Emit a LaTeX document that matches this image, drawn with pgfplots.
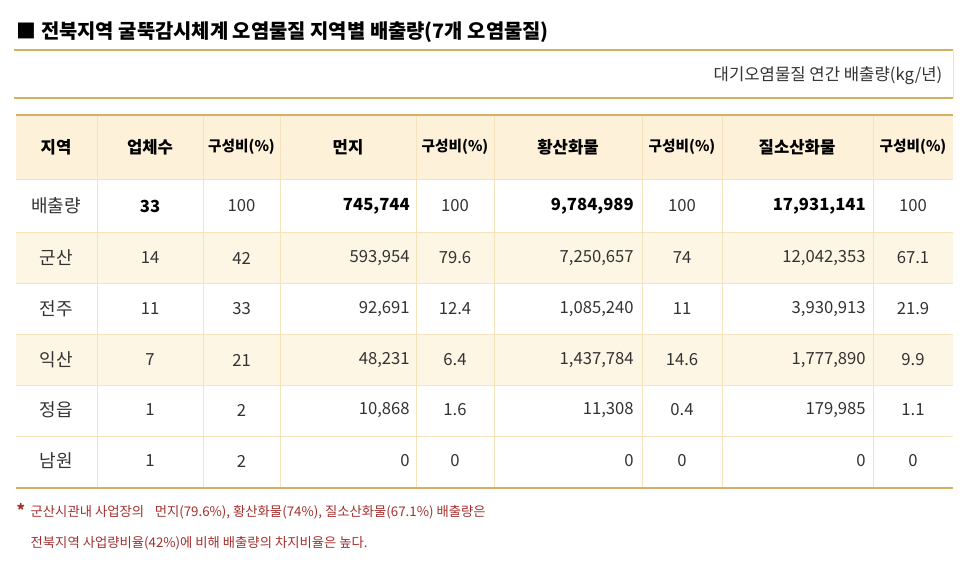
\documentclass[border=0pt]{standalone}
\usepackage{fontspec}
\setmainfont{Noto Sans CJK KR}
\usepackage{pgfplots}
\pgfplotsset{compat=1.18}
\usepackage{pgfplotstable}
\definecolor{gold}{HTML}{D5B261}
\definecolor{gridc}{HTML}{F5E3BC}
\definecolor{hdrbg}{HTML}{FDF1D9}
\definecolor{rowbg}{HTML}{FEF6E5}
\definecolor{txt}{HTML}{333333}
\definecolor{note}{HTML}{A3302E}

% 지역별 배출량 (kg/년), 행 중심 y 는 픽셀 단위
\pgfplotstableread{
y   reg    cnt cr  dust    dr    sox       sr    nox        nr
258 군산   14  42  593,954 79.6  7,250,657 74    12,042,353 67.1
309 전주   11  33  92,691  12.4  1,085,240 11    3,930,913  21.9
360 익산   7   21  48,231  6.4   1,437,784 14.6  1,777,890  9.9
410 정읍   1   2   10,868  1.6   11,308    0.4   179,985    1.1
461 남원   1   2   0       0     0         0     0          0
}\rows
\pgfplotstableread{
y   reg    cnt cr  dust    dr  sox       sr  nox        nr
206 배출량 33  100 745,744 100 9,784,989 100 17,931,141 100
}\total

\pgfplotsset{
  cellc/.style={draw=none, mark=none, nodes near coords, point meta=explicit symbolic,
    every node near coord/.append style={anchor=center, inner sep=0pt,
      font=\fontsize{12.5}{14}\selectfont, text=txt}},
  cellr/.style={cellc, every node near coord/.append style={anchor=east}},
  kor/.style={every node near coord/.append style={font=\fontsize{13.5}{15}\selectfont}},
  bold/.style={every node near coord/.append style={
      font=\fontsize{12.5}{14}\selectfont\bfseries, text=black}},
}

\begin{document}
\begin{tikzpicture}
\begin{axis}[
  width=727.5pt, height=425.25pt, scale only axis,
  xmin=0, xmax=970, ymin=0, ymax=567, y dir=reverse,
  axis lines=none, clip=false,
]
\path (axis cs:0,0) rectangle (axis cs:970,567);
% 배경
\fill[hdrbg] (axis cs:16,115) rectangle (axis cs:953,179);
\fill[rowbg] (axis cs:16,232) rectangle (axis cs:953,283);
\fill[rowbg] (axis cs:16,334) rectangle (axis cs:953,385);
% 격자
\pgfplotsinvokeforeach{97,203,280,416,494,642,722,873}{
  \draw[gridc, line width=0.75pt] (axis cs:#1,115) -- (axis cs:#1,488);
}
\pgfplotsinvokeforeach{179,232,283,334,385,436}{
  \draw[gridc, line width=0.75pt] (axis cs:16,#1) -- (axis cs:953,#1);
}
\draw[gridc, line width=0.75pt] (axis cs:953,50) -- (axis cs:953,98);
% 금색 선
\pgfplotsinvokeforeach{50,98}{
  \draw[gold, line width=1.8pt] (axis cs:14,#1) -- (axis cs:953,#1);
}
\pgfplotsinvokeforeach{115,488}{
  \draw[gold, line width=1.8pt] (axis cs:16,#1) -- (axis cs:953,#1);
}

% 제목, 단위
\node[anchor=west, font=\fontsize{14.9}{16}\selectfont\bfseries] at (axis cs:12,32)
  {■ 전북지역 굴뚝감시체계 오염물질 지역별 배출량(7개 오염물질)};
\node[anchor=east, font=\fontsize{12.5}{14}\selectfont, text=txt] at (axis cs:947,76)
  {대기오염물질 연간 배출량(kg/년)};

% 머리글
\begin{scope}[every node/.style={font=\fontsize{12.5}{14}\selectfont\bfseries, text=black}]
\node at (axis cs:56,147) {지역};
\node at (axis cs:150,147) {업체수};
\node at (axis cs:348,147) {먼지};
\node at (axis cs:568,147) {황산화물};
\node at (axis cs:797,147) {질소산화물};
\end{scope}
\begin{scope}[every node/.style={font=\fontsize{11}{13}\selectfont\bfseries, text=black}]
\node at (axis cs:241.5,147) {구성비(\%)};
\node at (axis cs:455,147) {구성비(\%)};
\node at (axis cs:682,147) {구성비(\%)};
\node at (axis cs:913,147) {구성비(\%)};
\end{scope}

% 합계 행
\addplot[cellc, kor] table[x expr=56, y=y, meta=reg] {\total};
\addplot[cellc, bold] table[x expr=150, y=y, meta=cnt] {\total};
\addplot[cellc] table[x expr=241.5, y=y, meta=cr] {\total};
\addplot[cellr, bold] table[x expr=410, y=y, meta=dust] {\total};
\addplot[cellc] table[x expr=455, y=y, meta=dr] {\total};
\addplot[cellr, bold] table[x expr=634, y=y, meta=sox] {\total};
\addplot[cellc] table[x expr=682, y=y, meta=sr] {\total};
\addplot[cellr, bold] table[x expr=866, y=y, meta=nox] {\total};
\addplot[cellc] table[x expr=913, y=y, meta=nr] {\total};

% 지역 행
\addplot[cellc, kor] table[x expr=56, y=y, meta=reg] {\rows};
\addplot[cellc] table[x expr=150, y=y, meta=cnt] {\rows};
\addplot[cellc] table[x expr=241.5, y=y, meta=cr] {\rows};
\addplot[cellr] table[x expr=410, y=y, meta=dust] {\rows};
\addplot[cellc] table[x expr=455, y=y, meta=dr] {\rows};
\addplot[cellr] table[x expr=634, y=y, meta=sox] {\rows};
\addplot[cellc] table[x expr=682, y=y, meta=sr] {\rows};
\addplot[cellr] table[x expr=866, y=y, meta=nox] {\rows};
\addplot[cellc] table[x expr=913, y=y, meta=nr] {\rows};

% 주석
\node[anchor=west, text=note, font=\fontsize{12}{14}\selectfont\bfseries] at (axis cs:12,510) {*};
\begin{scope}[every node/.style={anchor=west, text=note, font=\fontsize{10}{12}\selectfont}]
\node at (axis cs:26,512) {군산시관내 사업장의\hspace{0.8em}먼지(79.6\%), 황산화물(74\%), 질소산화물(67.1\%) 배출량은};
\node at (axis cs:26,543) {전북지역 사업량비율(42\%)에 비해 배출량의 차지비율은 높다.};
\end{scope}
\end{axis}
\end{tikzpicture}
\end{document}
